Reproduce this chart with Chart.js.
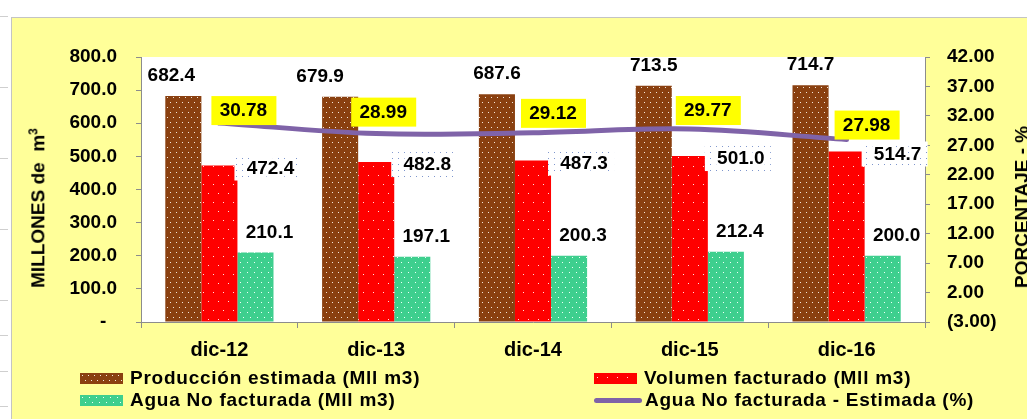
<!DOCTYPE html>
<html>
<head>
<meta charset="utf-8">
<script src="https://cdn.jsdelivr.net/npm/chart.js@4.4.1/dist/chart.umd.min.js"></script>
<style>
    html, body { margin: 0; padding: 0; background: #fff; }
    body {
        width: 1027px; height: 419px; position: relative; overflow: hidden;
        font-family: "Liberation Sans", Arial, sans-serif;
    }
    .sheet {
        position: absolute; left: 0; top: 0; width: 8px; height: 419px;
        background: repeating-linear-gradient(to bottom, transparent 0 16px, #cfcfcf 16px 17px, transparent 17px 35.5px);
    }
    .panel {
        position: absolute; left: 11px; top: 17px; right: 0; bottom: 0;
        background: #ffff99;
        border-left: 1px solid #c4c4c4; border-top: 1px solid #c4c4c4;
    }
    #myChart { position: absolute; left: 0; top: 0; }
    .axis-title {
        position: absolute; white-space: nowrap; font-weight: bold; font-size: 19px; color: #000;
        transform: translate(-50%, -50%) rotate(-90deg);
    }
    .axis-title sup { font-size: 12px; }
    #custom-legend {
        position: absolute; left: 80px; top: 367px;
        display: grid; grid-template-columns: 514px auto; grid-auto-rows: 22px;
    }
    .legend-item {
        display: flex; align-items: center; font-weight: bold; font-size: 19px; color: #000;
        white-space: nowrap; letter-spacing: 0.75px;
    }
    .color-box { display: inline-block; width: 43px; height: 11px; margin-right: 7px; }
    .line-box { display: inline-block; width: 48px; height: 5px; border-radius: 3px; margin-right: 3px; }
</style>
</head>
<body>
<div class="sheet"></div>
<div class="panel"></div>
<canvas id="myChart" width="1027" height="419"></canvas>
<div class="axis-title" style="left:38px; top:208px;">MILLONES de&nbsp; m<sup>3</sup></div>
<div class="axis-title" style="left:1022px; top:207px;">PORCENTAJE - %</div>
<div id="custom-legend"></div>

<script>
// 데이터
const categories = ["dic-12", "dic-13", "dic-14", "dic-15", "dic-16"];
const produccion = [682.4, 679.9, 687.6, 713.5, 714.7];
const facturado = [472.4, 482.8, 487.3, 501.0, 514.7];
const noFacturada = [210.1, 197.1, 200.3, 212.4, 200.0];
const porcentaje = [30.78, 28.99, 29.12, 29.77, 27.98];
const volTicks = [0, 100, 200, 300, 400, 500, 600, 700, 800];
const pctTicks = [-3, 2, 7, 12, 17, 22, 27, 32, 37, 42];

const seriesNames = [
    "Producción estimada (Mll m3)",
    "Volumen facturado (Mll m3)",
    "Agua No facturada (Mll m3)",
    "Agua No facturada - Estimada (%)"
];

// label nudges (Excel moved some labels)
const prodShiftX = [-12, -20, 0, 0, 0];
const pctShiftX = [24, 7, 20, 18, 20];
const pctShiftY = [-13, -22, -20, -19, -15];

const FONT = '"Liberation Sans", Arial, sans-serif';

// dotted fill tiles
function makeTile(bg, dot, w, h, dots) {
    const c = document.createElement("canvas");
    c.width = w; c.height = h;
    const g = c.getContext("2d");
    g.fillStyle = bg;
    g.fillRect(0, 0, w, h);
    g.fillStyle = dot;
    dots.forEach(([x, y]) => g.fillRect(x, y, 1, 1));
    return c;
}

const tiles = {
    brown: makeTile("#8a4010", "#f4e8dc", 6, 10, [[2, 2], [5, 7]]),
    red: makeTile("#ff0000", "#ffe0e0", 10, 18, [[3, 4], [8, 13]]),
    green: makeTile("#3ecf8e", "#f0fff8", 7, 10, [[2, 2], [5, 7]]),
    label: makeTile("#ffffff", "#7d95cc", 6, 6, [[2, 2]])
};

const ctx = document.getElementById("myChart").getContext("2d");
const pat = name => ctx.createPattern(tiles[name], "repeat");

function fmtPct(v) {
    return v < 0 ? "(" + Math.abs(v).toFixed(2) + ")" : v.toFixed(2);
}

// 흰색 플롯 영역
const plotBackground = {
    id: "plotBackground",
    beforeDraw(chart) {
        const a = chart.chartArea;
        chart.ctx.save();
        chart.ctx.fillStyle = "#ffffff";
        chart.ctx.fillRect(a.left, a.top, a.right - a.left, a.bottom - a.top);
        chart.ctx.restore();
    }
};

// 값 레이블
const valueLabels = {
    id: "valueLabels",
    afterDatasetsDraw(chart) {
        const c = chart.ctx;
        c.save();
        c.font = "bold 19px " + FONT;
        c.textAlign = "center";
        c.textBaseline = "middle";
        c.fillStyle = "#000";

        chart.getDatasetMeta(0).data.forEach((bar, i) => {
            c.fillText(produccion[i].toFixed(1), bar.x + prodShiftX[i], bar.y - 20);
        });

        chart.getDatasetMeta(1).data.forEach((bar, i) => {
            const left = bar.x + bar.width / 2 - 3;
            const cy = bar.y + 2;
            c.fillStyle = pat("label");
            c.fillRect(left, cy - 12, 66, 25);
            c.lineWidth = 6;
            c.lineJoin = "round";
            c.strokeStyle = "#fff";
            c.strokeText(facturado[i].toFixed(1), left + 36, cy + 1);
            c.fillStyle = "#000";
            c.fillText(facturado[i].toFixed(1), left + 36, cy + 1);
        });

        chart.getDatasetMeta(2).data.forEach((bar, i) => {
            c.fillText(noFacturada[i].toFixed(1), bar.x + 14, bar.y - 20);
        });

        chart.getDatasetMeta(3).data.forEach((pt, i) => {
            const cx = pt.x + pctShiftX[i];
            const cy = pt.y + pctShiftY[i];
            c.fillStyle = "#ffff00";
            c.fillRect(cx - 32, cy - 14, 65, 29);
            c.fillStyle = "#000";
            c.fillText(porcentaje[i].toFixed(2), cx, cy + 1);
        });
        c.restore();
    }
};

const tickFont = { family: FONT, size: 19, weight: "bold" };

const chartInstance = new Chart(ctx, {
    type: "bar",
    data: {
        labels: categories,
        datasets: [
            { label: seriesNames[0], data: produccion, backgroundColor: pat("brown"), yAxisID: "y", order: 1 },
            { label: seriesNames[1], data: facturado, backgroundColor: pat("red"), yAxisID: "y", order: 1 },
            { label: seriesNames[2], data: noFacturada, backgroundColor: pat("green"), yAxisID: "y", order: 1 },
            {
                type: "line", label: seriesNames[3], data: porcentaje, yAxisID: "y1", order: 0,
                borderColor: "#7f63a8", borderWidth: 5, tension: 0.35, pointRadius: 0,
                borderCapStyle: "round", fill: false
            }
        ]
    },
    options: {
        responsive: false,
        animation: false,
        datasets: { bar: { barPercentage: 1.0, categoryPercentage: 0.69 } },
        layout: { padding: { top: 57, left: 0, right: 0, bottom: 0 } },
        scales: {
            x: {
                grid: { offset: true, drawOnChartArea: false, tickLength: 6, color: "#8c8c8c" },
                border: { color: "#8c8c8c" },
                ticks: { font: { family: FONT, size: 20, weight: "bold" }, color: "#000", padding: 10 },
                afterFit: s => { s.height = 97; }
            },
            y: {
                position: "left",
                min: 0, max: 800,
                afterBuildTicks: s => { s.ticks = volTicks.map(v => ({ value: v })); },
                grid: { drawOnChartArea: false, tickLength: 5, color: "#8c8c8c" },
                border: { color: "#8c8c8c" },
                ticks: {
                    font: tickFont, color: "#000", padding: 19,
                    callback: v => v === 0 ? "-  " : v.toFixed(1)
                },
                afterFit: s => { s.width = 141; }
            },
            y1: {
                position: "right",
                min: -3, max: 42,
                afterBuildTicks: s => { s.ticks = pctTicks.map(v => ({ value: v })); },
                grid: { drawOnChartArea: false, tickLength: 5, color: "#8c8c8c" },
                border: { color: "#8c8c8c" },
                ticks: { font: tickFont, color: "#000", padding: 17, callback: v => fmtPct(v) },
                afterFit: s => { s.width = 102; }
            }
        },
        plugins: {
            legend: { display: false },
            tooltip: { enabled: false }
        }
    },
    plugins: [plotBackground, valueLabels]
});

// HTML 범례 (Excel 순서: 2열)
function updateCustomLegend() {
    const chartLegend = document.getElementById("custom-legend");
    chartLegend.innerHTML = "";
    const tileFor = ["brown", "red", "green"];
    [0, 1, 2, 3].forEach(index => {
        const ds = chartInstance.data.datasets[index];
        const legendItem = document.createElement("div");
        legendItem.classList.add("legend-item");
        const box = document.createElement("span");
        if (ds.type === "line") {
            box.classList.add("line-box");
            box.style.backgroundColor = ds.borderColor;
        } else {
            box.classList.add("color-box");
            box.style.backgroundImage = "url(" + tiles[tileFor[index]].toDataURL() + ")";
        }
        legendItem.appendChild(box);
        legendItem.appendChild(document.createTextNode(ds.label));
        chartLegend.appendChild(legendItem);
    });
}
updateCustomLegend();
</script>
</body>
</html>
